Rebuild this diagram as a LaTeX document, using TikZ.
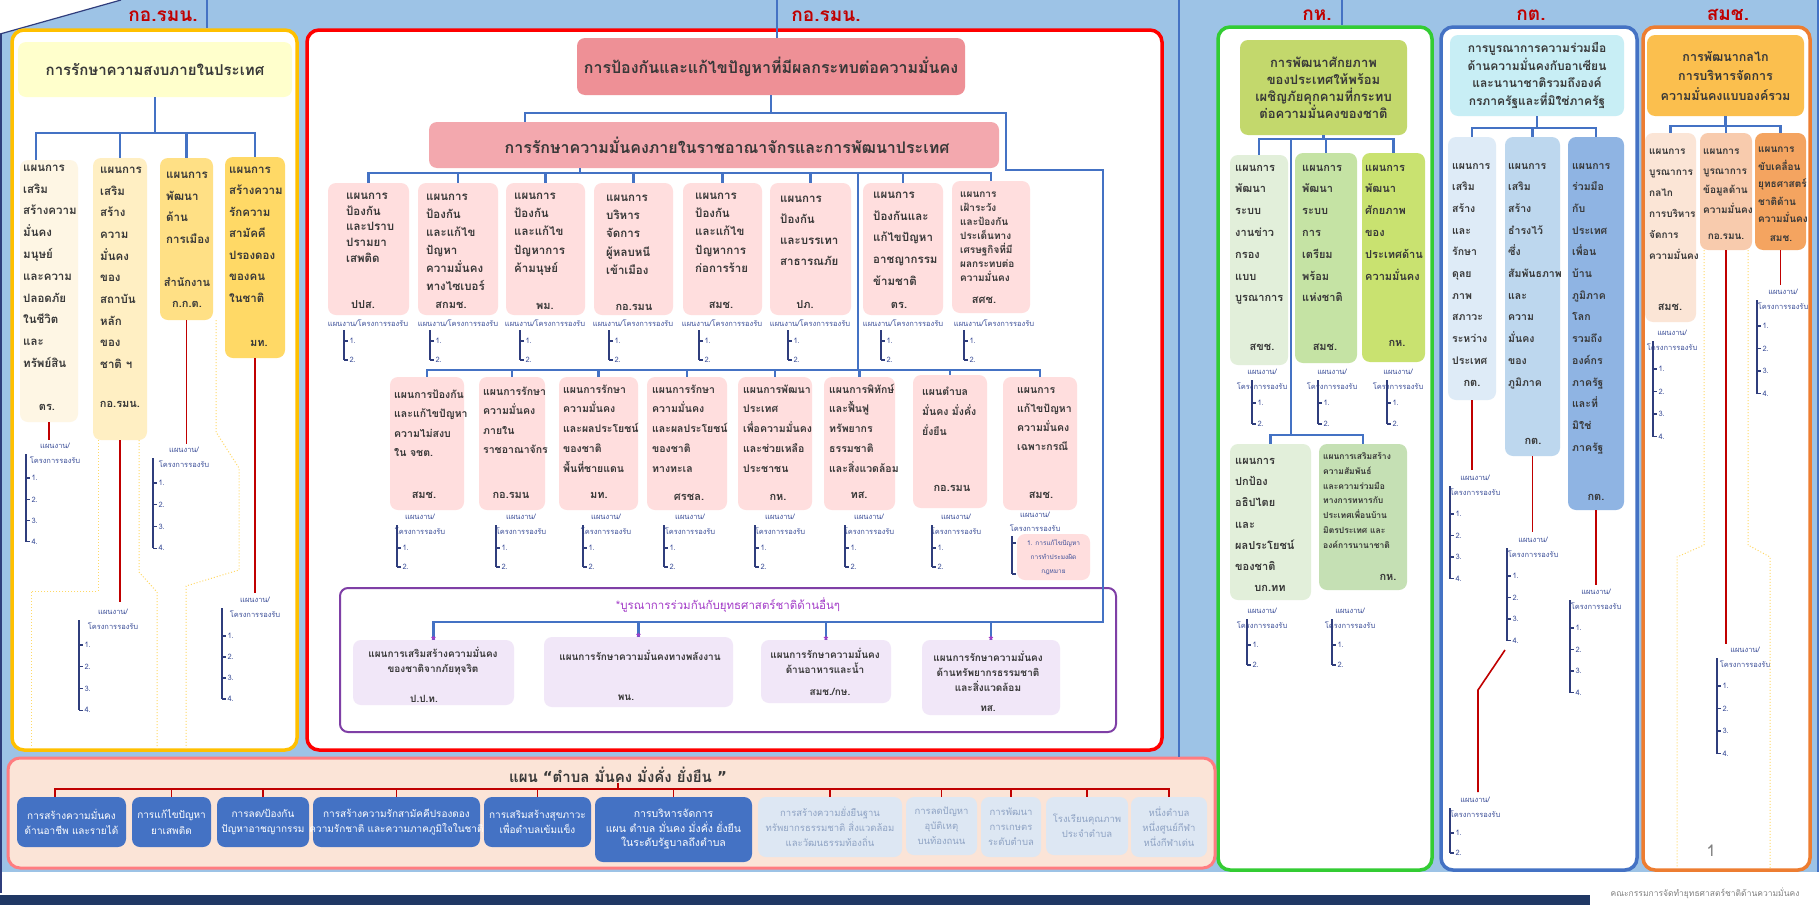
\documentclass[tikz,border=0pt]{standalone}
\usepackage{fontspec}
\setmainfont{Loma}[Script=Thai]
\newfontfamily\djv{DejaVu Sans}
\usetikzlibrary{calc,fit}
\newcommand{\fsz}[2]{\fontsize{#1}{#2}\selectfont}
\definecolor{bgblue}{HTML}{9DC3E6}
\definecolor{cblue}{HTML}{4472C4}
\definecolor{cred}{HTML}{C00000}
\definecolor{cnavy}{HTML}{2F3D7C}
\definecolor{cplan}{HTML}{3B4E98}
\definecolor{ctext}{HTML}{383838}
\definecolor{clabel}{HTML}{C00000}
\definecolor{pyel}{HTML}{FFC000}
\definecolor{pred}{HTML}{FF0000}
\definecolor{pgreen}{HTML}{33CC33}
\definecolor{porange}{HTML}{ED7D31}
\definecolor{dotc}{HTML}{FFD966}
\definecolor{fLt}{HTML}{FFFFCC}
\definecolor{fLa}{HTML}{FEF6E4}
\definecolor{fLb}{HTML}{FFEFC3}
\definecolor{fLc}{HTML}{FFE085}
\definecolor{fLd}{HTML}{FFD966}
\definecolor{fMa}{HTML}{EE9096}
\definecolor{fMb}{HTML}{F3A8AE}
\definecolor{fMr}{HTML}{FFDEDE}
\definecolor{cpur}{HTML}{7F3FA6}
\definecolor{tpur}{HTML}{A33CC8}
\definecolor{fpur}{HTML}{F1E7F8}
\definecolor{fGt}{HTML}{C3D86C}
\definecolor{fGa}{HTML}{E2EFDA}
\definecolor{fGb}{HTML}{C5E3A4}
\definecolor{fGc}{HTML}{C9E270}
\definecolor{fGd}{HTML}{C5E0B4}
\definecolor{fKt}{HTML}{C8EEF5}
\definecolor{fKa}{HTML}{DEEBF7}
\definecolor{fKb}{HTML}{BDD7EE}
\definecolor{fKc}{HTML}{8FB4E3}
\definecolor{fOt}{HTML}{FBBF4E}
\definecolor{fOa}{HTML}{FBE5D6}
\definecolor{fOb}{HTML}{F8CBAD}
\definecolor{fOc}{HTML}{F4A460}
\definecolor{fBand}{HTML}{FBE4D7}
\definecolor{cBand}{HTML}{FF7C80}
\definecolor{fBl}{HTML}{DDE7F3}
\definecolor{tBl}{HTML}{8FA3C4}
\definecolor{cfoot}{HTML}{203864}
\tikzset{
  panel/.style={rounded corners=12pt, fill=white, line width=3.5pt, inner sep=0pt},
  pb/.style={rounded corners=8pt, inner sep=0pt, draw=none},
  conn/.style={draw=cblue, line width=2.2pt},
  redl/.style={draw=cred, line width=1.6pt},
  brk/.style={draw=cnavy, line width=1.1pt},
  dotl/.style={draw=dotc, line width=1pt, dotted},
  plt/.style={font=\fsz{7.5}{9}, text=cplan, inner sep=0pt},
  btx/.style={text=ctext, inner sep=0pt, align=left},
  agx/.style={text=ctext, inner sep=0pt, font=\bfseries\fsz{11}{13}},
  toplab/.style={text=clabel, font=\bfseries\fsz{19}{22}, inner sep=0pt},
  bbt/.style={text=white, inner sep=0pt, align=center, font=\fsz{10}{15.5}},
  blt/.style={text=tBl, inner sep=0pt, align=center, font=\fsz{9.5}{15}},
  ptx/.style={text=ctext, inner sep=0pt, align=center, font=\bfseries\fsz{10}{15}},
}
\newcommand{\mybox}[6]{\node[pb, fill=#6, fit={(#2,#3) (#4,#5)}] (#1) {};}
\newcommand{\btext}[7]{\node[btx, anchor=north west, font=\bfseries\fsz{#4}{#5}, #7] (#1) at ({#2},{#3+0.27*#4-0.7*#5}) {\strut #6};}
\newcommand{\planl}[7]{%
  \node[plt] (#1h) at ({#3},{#4}) {แผนงาน/};
  \node[plt] (#1k) at ({#3},{#4+14}) {โครงการรองรับ};
  \draw[brk] ({#2},{#4+8}) -- ({#2},{#6+(#5-1)*#7});
  \foreach \i in {1,...,#5} {\draw[brk] ({#2},{#6+(\i-1)*#7}) -- ++(4,0) node[plt, anchor=west, inner sep=1pt] (#1i\i) {\i.};}
}
\newcommand{\planr}[3]{%
  \node[plt] (#1h) at (#3,323) {แผนงาน/โครงการรองรับ};
  \draw[brk] (#2,330) -- (#2,360);
  \draw[brk] (#2,341) -- ++(4,0) node[plt,anchor=west,inner sep=1pt] (#1i1) {1.};
  \draw[brk] (#2,360) -- ++(4,0) node[plt,anchor=west,inner sep=1pt] (#1i2) {2.};
}
\begin{document}
\begin{tikzpicture}[x=1pt,y=-1pt]
\useasboundingbox (0,0) rectangle (1819,905);
\fill[white] (0,0) rectangle (1819,905);
\fill[bgblue] (0,0) rectangle (1819,872);
\fill[white] (0,0) -- (121,0) -- (0,34) -- cycle;
\draw[cnavy, line width=1.2pt] (0,34) -- (121,0);
\draw[cnavy, line width=2.5pt] (1.2,34) -- (1.2,893);
\draw[cblue, line width=1.5pt] (1818,0) -- (1818,872);
\fill[cfoot] (0,895) rectangle (1590,905);
\node[font=\fsz{8.5}{10}, text=gray, inner sep=0pt] (foot) at (1705,893) {คณะกรรมการจัดทำยุทธศาสตร์ชาติด้านความมั่นคง};

% panels
\node[panel, draw=pyel, fit={(12,30) (297,750)}] (pnla) {};
\node[panel, draw=pred, fit={(307,30) (1162,750)}] (pnlb) {};
\node[panel, draw=pgreen, fit={(1218,27) (1432,870)}] (pnlc) {};
\node[panel, draw=cblue, fit={(1441,27) (1637,870)}] (pnld) {};
\node[panel, draw=porange, fit={(1643,27) (1810,870)}] (pnle) {};
\node[panel, draw=cBand, fill=fBand, line width=3pt, fit={(8,758) (1215,868)}] (pnlf) {};
\draw[cblue, line width=2pt] (1179,0) -- (1179,757);

% top labels
\node[toplab] (laba) at (163,16) {กอ.รมน.};
\node[toplab] (labb) at (826,16) {กอ.รมน.};
\node[toplab] (labc) at (1317,15) {กห.};
\node[toplab] (labd) at (1531,15) {กต.};
\node[toplab] (labe) at (1728,15) {สมช.};

% ================= LEFT PANEL
\mybox{lt}{18}{42}{292}{97}{fLt}
\node[font=\bfseries\fsz{15}{18}, text=ctext, inner sep=0pt] (ltt) at (lt.center) {การรักษาความสงบภายในประเทศ};
\mybox{la}{20}{160}{78}{422}{fLa}
\mybox{lb}{93}{158}{147}{440}{fLb}
\mybox{lc}{160}{158}{213}{320}{fLc}
\mybox{ld}{225}{157}{285}{358}{fLd}
\coordinate (topa) at (207,0);
\draw[conn] (topa) -- (topa |- pnla.north);
\coordinate (lbus) at (150,133);
\coordinate (latop) at ($(la.north west)+(16,0)$);
\draw[conn] (lt.south) -- (lt.south |- lbus);
\draw[conn] (latop) |- (lbus -| ld.north) -- (ld.north);
\draw[conn] (lb.north) -- (lb.north |- lbus);
\draw[conn] (lc.north) -- (lc.north |- lbus);
\btext{lat}{23}{168}{11.5}{21.8}{แผนการ\\เสริม\\สร้างความ\\มั่นคง\\มนุษย์\\และความ\\ปลอดภัย\\ในชีวิต\\และ\\ทรัพย์สิน}{}
\node[agx] (laa) at (47,407) {ตร.};
\btext{lbt}{100}{170}{11.5}{21.7}{แผนการ\\เสริม\\สร้าง\\ความ\\มั่นคง\\ของ\\สถาบัน\\หลัก\\ของ\\ชาติ ฯ}{}
\node[agx] (lba) at (120,404) {กอ.รมน.};
\btext{lct}{166}{175}{11.5}{21.7}{แผนการ\\พัฒนา\\ด้าน\\การเมือง}{}
\node[agx, align=center, font=\bfseries\fsz{11}{21}] (lca) at (187,293) {สำนักงาน\\ก.ก.ต.};
\btext{ldt}{229}{170}{11.5}{21.5}{แผนการ\\สร้างความ\\รักความ\\สามัคคี\\ปรองดอง\\ของคน\\ในชาติ}{}
\node[agx] (lda) at (259,343) {มท.};
\draw[redl] (la.south) -- ++(0,18);
\draw[redl] (lb.south) -- ++(0,162);
\draw[redl] (lc.south) -- ++(0,124);
\draw[redl] (ld.south) -- ++(0,235);
\planl{lpa}{26}{55}{446}{4}{478}{21.3}
\planl{lpb}{79}{113}{612}{4}{645}{21.7}
\planl{lpc}{153}{184}{450}{4}{483}{21.7}
\planl{lpd}{222}{255}{600}{4}{636}{21}
\draw[dotl] (98,440) -- (98,591) -- (31,591) -- (31,750);
\draw[dotl] (139,440) -- (139,572) -- (157,592) -- (157,750);
\draw[dotl] (216,320) -- (216,432) -- (239,468) -- (239,570) -- (186,586) -- (186,750);

% ================= MIDDLE PANEL
\mybox{mta}{577}{38}{965}{95}{fMa}
\node[font=\bfseries\fsz{16}{18}, text=ctext, inner sep=0pt] (mtat) at (mta.center) {การป้องกันและแก้ไขปัญหาที่มีผลกระทบต่อความมั่นคง};
\mybox{mtb}{429}{122}{999}{168}{fMb}
\node[font=\bfseries\fsz{16}{18}, text=ctext, inner sep=0pt] (mtbt) at (727,145) {การรักษาความมั่นคงภายในราชอาณาจักรและการพัฒนาประเทศ};
\coordinate (topb) at (777,0);
\draw[conn] (topb) -- (topb |- mta.north);
\coordinate (mbus) at (700,113);
\draw[conn] (mta.south) -- (mta.south |- mbus);
\coordinate (mtbn) at ($(mtb.north west)+(96,0)$);
\coordinate (ja) at (1006,113);
\coordinate (jb) at (1103,170);
\coordinate (pbus) at (700,622);

% row 1
\mybox{ma}{328}{183}{409}{315}{fMr}
\mybox{mb}{418}{183}{498}{315}{fMr}
\mybox{mc}{506}{183}{585}{315}{fMr}
\mybox{md}{594}{183}{673}{315}{fMr}
\mybox{me}{683}{183}{762}{315}{fMr}
\mybox{mf}{770}{183}{851}{315}{fMr}
\mybox{mg}{863}{183}{943}{315}{fMr}
\mybox{mh}{952}{181}{1030}{313}{fMr}
\coordinate (rbus) at (700,173);
\coordinate (mtbs) at ($(mtb.south west)+(151,0)$);
\draw[conn] (mtbs) -- (mtbs |- rbus);
\draw[conn] (ma.north) |- (rbus -| mh.north) -- (mh.north);
\foreach \b in {mb,mc,md,me,mf,mg} {\draw[conn] (\b.north) -- (\b.north |- rbus);}
\btext{mat}{346}{196}{11.5}{15.8}{แผนการ\\ป้องกัน\\และปราบ\\ปรามยา\\เสพติด}{}
\node[agx] (maa) at (363,305) {ปปส.};
\btext{mbt}{426}{197}{11.5}{18}{แผนการ\\ป้องกัน\\และแก้ไข\\ปัญหา\\ความมั่นคง\\ทางไซเบอร์}{}
\node[agx] (mba) at (451,305) {สกมช.};
\btext{mct}{514}{196}{11.5}{18.3}{แผนการ\\ป้องกัน\\และแก้ไข\\ปัญหาการ\\ค้ามนุษย์}{}
\node[agx] (mca) at (545,306) {พม.};
\btext{mdt}{606}{198}{11.5}{18.3}{แผนการ\\บริหาร\\จัดการ\\ผู้หลบหนี\\เข้าเมือง}{}
\node[agx] (mda) at (634,307) {กอ.รมน};
\btext{met}{695}{196}{11.5}{18.3}{แผนการ\\ป้องกัน\\และแก้ไข\\ปัญหาการ\\ก่อการร้าย}{}
\node[agx] (mea) at (721,305) {สมช.};
\btext{mft}{780}{199}{11.5}{21.2}{แผนการ\\ป้องกัน\\และบรรเทา\\สาธารณภัย}{}
\node[agx] (mfa) at (805,305) {ปภ.};
\btext{mgt}{873}{195}{11.5}{21.7}{แผนการ\\ป้องกันและ\\แก้ไขปัญหา\\อาชญากรรม\\ข้ามชาติ}{}
\node[agx] (mga) at (899,305) {ตร.};
\btext{mht}{960}{195}{10}{13.9}{แผนการ\\เฝ้าระวัง\\และป้องกัน\\ประเด็นทาง\\เศรษฐกิจที่มี\\ผลกระทบต่อ\\ความมั่นคง}{}
\node[agx] (mha) at (984,300) {สศช.};
\planr{mpa}{344}{368}
\planr{mpb}{430}{458}
\planr{mpc}{520}{545}
\planr{mpd}{609}{633}
\planr{mpe}{699}{722}
\planr{mpf}{788}{810}
\planr{mpg}{881}{903}
\planr{mph}{964}{994}

% row 2
\mybox{na}{390}{377}{464}{510}{fMr}
\mybox{nb}{479}{377}{545}{510}{fMr}
\mybox{nc}{559}{377}{638}{510}{fMr}
\mybox{nd}{647}{377}{727}{510}{fMr}
\mybox{ne}{738}{377}{812}{510}{fMr}
\mybox{nf}{824}{377}{895}{510}{fMr}
\mybox{ng}{913}{375}{987}{508}{fMr}
\mybox{nh}{1003}{377}{1077}{510}{fMr}
\coordinate (sbus) at (700,370);
\coordinate (rx) at (858,173);
\draw[conn] (rx) -- (rx |- sbus);
\draw[conn] (na.north) |- (sbus -| nh.north) -- (nh.north);
\foreach \b in {nb,nc,nd,ne,nf,ng} {\draw[conn] (\b.north) -- (\b.north |- sbus);}
\btext{nat}{394}{395}{10.5}{19.5}{แผนการป้องกัน\\และแก้ไขปัญหา\\ความไม่สงบ\\ใน จชต.}{}
\node[agx] (naa) at (424,495) {สมช.};
\btext{nbt}{483}{392}{10.5}{19.5}{แผนการรักษา\\ความมั่นคง\\ภายใน\\ราชอาณาจักร}{}
\node[agx] (nba) at (511,495) {กอ.รมน};
\btext{nct}{563}{390}{10.5}{19.8}{แผนการรักษา\\ความมั่นคง\\และผลประโยชน์\\ของชาติ\\พื้นที่ชายแดน}{}
\node[agx] (nca) at (599,495) {มท.};
\btext{ndt}{652}{390}{10.5}{19.8}{แผนการรักษา\\ความมั่นคง\\และผลประโยชน์\\ของชาติ\\ทางทะเล}{}
\node[agx] (nda) at (689,497) {ศรชล.};
\btext{net}{743}{390}{10.5}{19.8}{แผนการพัฒนา\\ประเทศ\\เพื่อความมั่นคง\\และช่วยเหลือ\\ประชาชน}{}
\node[agx] (nea) at (778,497) {กห.};
\btext{nft}{829}{390}{10.5}{19.8}{แผนการพิทักษ์\\และฟื้นฟู\\ทรัพยากร\\ธรรมชาติ\\และสิ่งแวดล้อม}{}
\node[agx] (nfa) at (859,495) {ทส.};
\btext{ngt}{922}{392}{10.5}{20}{แผนตำบล\\มั่นคง มั่งคั่ง\\ยั่งยืน}{}
\node[agx] (nga) at (952,488) {กอ.รมน};
\btext{nht}{1017}{390}{10.5}{19}{แผนการ\\แก้ไขปัญหา\\ความมั่นคง\\เฉพาะกรณี}{}
\node[agx] (nha) at (1041,495) {สมช.};
\planl{npa}{397}{420}{517}{2}{548}{19}
\planl{npb}{496}{521}{517}{2}{548}{19}
\planl{npc}{583}{606}{517}{2}{548}{19}
\planl{npd}{664}{690}{517}{2}{548}{19}
\planl{npe}{755}{780}{517}{2}{548}{19}
\planl{npf}{845}{869}{517}{2}{548}{19}
\planl{npg}{932}{956}{517}{2}{548}{19}
\node[plt] (nphh) at (1035,515) {แผนงาน/};
\node[plt] (nphk) at (1035,528) {โครงการรองรับ};
\mybox{nhp}{1017}{534}{1090}{580}{fMr}
\draw[brk] (1012,536) -- (1012,574);
\draw[brk] (1012,543) -- ++(4,0);
\draw[brk] (1012,574) -- ++(4,0);
\node[plt, align=center, font=\fsz{6.5}{14}] (nhpt) at (nhp.center) {1. การแก้ไขปัญหา\\การทำประมงผิด\\กฎหมาย};

% purple integration box
\node[rounded corners=8pt, draw=cpur, line width=2pt, fill=white, inner sep=0pt, fit={(340,588) (1116,732)}] (pur) {};
\node[text=tpur, font=\fsz{11.5}{14}, inner sep=0pt] (purt) at (728,605) {*บูรณาการร่วมกันกับยุทธศาสตร์ชาติด้านอื่นๆ};
\mybox{pa}{353}{640}{514}{705}{fpur}
\mybox{pbb}{544}{637}{733}{707}{fpur}
\mybox{pc}{761}{640}{891}{703}{fpur}
\mybox{pd}{922}{640}{1060}{715}{fpur}
\draw[conn] (mtbn) |- (ja) |- (jb) -- (jb |- pbus) -| (pa.north);
\foreach \b in {pbb,pc,pd} {\draw[conn] (\b.north) -- (\b.north |- pbus);}
\foreach \b in {pa,pbb,pc,pd} {\node[text=tpur, font=\bfseries\fsz{14}{14}, inner sep=0pt] (\b s) at ($(\b.north)+(0,2)$) {*};}
\node[ptx] (pat) at (433,661) {แผนการเสริมสร้างความมั่นคง\\ของชาติจากภัยทุจริต};
\node[agx, font=\bfseries\fsz{10}{12}] (paa) at (424,699) {ป.ป.ท.};
\node[ptx] (pbt) at (640,655) {แผนการรักษาความมั่นคงทางพลังงาน};
\node[agx, font=\bfseries\fsz{10}{12}] (pba) at (626,698) {พน.};
\node[ptx] (pct) at (825,661) {แผนการรักษาความมั่นคง\\ด้านอาหารและน้ำ};
\node[agx, font=\bfseries\fsz{10}{12}] (pca) at (830,692) {สมช./กษ.};
\node[ptx] (pdt) at (988,671) {แผนการรักษาความมั่นคง\\ด้านทรัพยากรธรรมชาติ\\และสิ่งแวดล้อม};
\node[agx, font=\bfseries\fsz{10}{12}] (pda) at (988,709) {ทส.};

% ================= BOTTOM BAND
\node[font=\bfseries\fsz{15}{17}, text=ctext, inner sep=0pt] (bt) at (618,775) {แผน {\djv“}ตำบล มั่นคง มั่งคั่ง ยั่งยืน {\djv”}};
\mybox{bba}{17}{797}{126}{847}{cblue}
\mybox{bbb}{132}{797}{211}{847}{cblue}
\mybox{bbc}{217}{797}{309}{847}{cblue}
\mybox{bbd}{313}{797}{480}{847}{cblue}
\mybox{bbe}{484}{797}{591}{847}{cblue}
\mybox{bbf}{595}{797}{752}{862}{cblue}
\mybox{bbg}{758}{797}{902}{857}{fBl}
\mybox{bbh}{906}{797}{977}{855}{fBl}
\mybox{bbi}{981}{797}{1041}{857}{fBl}
\mybox{bbj}{1046}{797}{1128}{855}{fBl}
\mybox{bbk}{1131}{797}{1207}{857}{fBl}
\coordinate (bbus) at (612,789);
\coordinate (bbat) at ($(bba.north west)+(38,0)$);
\draw[redl] (bt.south) -- (bt.south |- bbus);
\draw[redl] (bbat) |- (bbus -| bbk.north) -- (bbk.north);
\foreach \b in {bbb,bbc,bbd,bbe,bbf,bbg,bbh,bbi,bbj} {\draw[redl] (\b.north) -- (\b.north |- bbus);}
\node[bbt] (bbatx) at (bba.center) {การสร้างความมั่นคง\\ด้านอาชีพ และรายได้};
\node[bbt] (bbbt) at (bbb.center) {การแก้ไขปัญหา\\ยาเสพติด};
\node[bbt] (bbct) at (bbc.center) {การลด/ป้องกัน\\ปัญหาอาชญากรรม};
\node[bbt] (bbdt) at (bbd.center) {การสร้างความรักสามัคคีปรองดอง\\ความรักชาติ และความภาคภูมิใจในชาติ};
\node[bbt] (bbet) at (bbe.center) {การเสริมสร้างสุขภาวะ\\เพื่อตำบลเข้มแข็ง};
\node[bbt, font=\fsz{10.5}{14.5}] (bbft) at (bbf.center) {การบริหารจัดการ\\แผน ตำบล มั่นคง มั่งคั่ง ยั่งยืน\\ในระดับรัฐบาลถึงตำบล};
\node[blt] (bbgt) at (bbg.center) {การสร้างความยั่งยืนฐาน\\ทรัพยากรธรรมชาติ สิ่งแวดล้อม\\และวัฒนธรรมท้องถิ่น};
\node[blt] (bbht) at (bbh.center) {การลดปัญหา\\อุบัติเหตุ\\บนท้องถนน};
\node[blt] (bbit) at (bbi.center) {การพัฒนา\\การเกษตร\\ระดับตำบล};
\node[blt] (bbjt) at (bbj.center) {โรงเรียนคุณภาพ\\ประจำตำบล};
\node[blt] (bbkt) at (bbk.center) {หนึ่งตำบล\\หนึ่งศูนย์กีฬา\\หนึ่งกีฬาเด่น};

% ================= กห. PANEL
\coordinate (topc) at (1342,0);
\draw[conn] (topc) -- (topc |- pnlc.north);
\mybox{gt}{1240}{40}{1407}{135}{fGt}
\node[font=\bfseries\fsz{13}{17}, text=ctext, inner sep=0pt, align=center] (gtt) at (gt.center) {การพัฒนาศักยภาพ\\ของประเทศให้พร้อม\\เผชิญภัยคุกคามที่กระทบ\\ต่อความมั่นคงของชาติ};
\mybox{ga}{1230}{155}{1288}{365}{fGa}
\mybox{gb}{1295}{153}{1357}{363}{fGb}
\mybox{gc}{1362}{153}{1425}{362}{fGc}
\coordinate (gbus) at (1320,139);
\draw[conn] (gt.south) -- (gt.south |- gbus);
\draw[conn] (ga.north) |- (gbus -| gc.north) -- (gc.north);
\draw[conn] (gb.north) -- (gb.north |- gbus);
\btext{gat}{1235}{168}{11}{21.8}{แผนการ\\พัฒนา\\ระบบ\\งานข่าว\\กรอง\\แบบ\\บูรณาการ}{}
\node[agx] (gaa) at (1262,347) {สขช.};
\btext{gbt}{1302}{168}{11}{21.8}{แผนการ\\พัฒนา\\ระบบ\\การ\\เตรียม\\พร้อม\\แห่งชาติ}{}
\node[agx] (gba) at (1325,347) {สมช.};
\btext{gct}{1365}{168}{11}{21.8}{แผนการ\\พัฒนา\\ศักยภาพ\\ของ\\ประเทศด้าน\\ความมั่นคง}{}
\node[agx] (gca) at (1397,343) {กห.};
\planl{gpa}{1252}{1262}{372}{2}{403}{21}
\planl{gpb}{1318}{1332}{372}{2}{403}{21}
\planl{gpc}{1387}{1398}{372}{2}{403}{21}
\mybox{gd}{1230}{444}{1311}{600}{fGa}
\mybox{ge}{1319}{444}{1407}{590}{fGd}
\coordinate (gx) at (1291,139);
\coordinate (gdbus) at (1300,435);
\draw[conn] (gx) -- (gx |- gdbus);
\draw[conn] (gd.north) |- (gdbus -| ge.north) -- (ge.north);
\btext{gdt}{1235}{461}{11}{21.3}{แผนการ\\ปกป้อง\\อธิปไตย\\และ\\ผลประโยชน์\\ของชาติ}{}
\node[agx] (gda) at (1270,588) {บก.ทท};
\btext{get}{1323}{457}{8.5}{14.8}{แผนการเสริมสร้าง\\ความสัมพันธ์\\และความร่วมมือ\\ทางการทหารกับ\\ประเทศเพื่อนบ้าน\\มิตรประเทศ และ\\องค์การนานาชาติ}{}
\node[agx] (gea) at (1388,577) {กห.};
\planl{gpd}{1247}{1262}{611}{2}{645}{20}
\planl{gpe}{1332}{1350}{611}{2}{645}{20}

% ================= กต. PANEL
\mybox{kt}{1450}{35}{1624}{116}{fKt}
\node[font=\bfseries\fsz{12}{17.5}, text=ctext, inner sep=0pt, align=center] (ktt) at (kt.center) {การบูรณาการความร่วมมือ\\ด้านความมั่นคงกับอาเซียน\\และนานาชาติรวมถึงองค์\\กรภาครัฐและที่มิใช่ภาครัฐ};
\mybox{ka}{1448}{137}{1496}{400}{fKa}
\mybox{kb}{1505}{137}{1560}{456}{fKb}
\mybox{kc}{1568}{137}{1624}{510}{fKc}
\coordinate (kbus) at (1530,128);
\draw[conn] (kt.south) -- (kt.south |- kbus);
\draw[conn] (ka.north) |- (kbus -| kc.north) -- (kc.north);
\draw[conn] (kb.north) -- (kb.north |- kbus);
\btext{kat}{1452}{166}{10.5}{21.7}{แผนการ\\เสริม\\สร้าง\\และ\\รักษา\\ดุลย\\ภาพ\\สภาวะ\\ระหว่าง\\ประเทศ}{}
\node[agx] (kaa) at (1472,383) {กต.};
\btext{kbt}{1508}{166}{10.5}{21.7}{แผนการ\\เสริม\\สร้าง\\ธำรงไว้\\ซึ่ง\\สัมพันธภาพ\\และ\\ความ\\มั่นคง\\ของ\\ภูมิภาค}{}
\node[agx] (kba) at (1533,441) {กต.};
\btext{kct}{1572}{166}{10.5}{21.7}{แผนการ\\ร่วมมือ\\กับ\\ประเทศ\\เพื่อน\\บ้าน\\ภูมิภาค\\โลก\\รวมถึง\\องค์กร\\ภาครัฐ\\และที่\\มิใช่\\ภาครัฐ}{}
\node[agx] (kca) at (1596,497) {กต.};
\draw[redl] (ka.south) -- ++(0,70);
\draw[redl] (kb.south) -- ++(0,76);
\draw[redl] (kc.south) -- ++(0,75);
\planl{kpa}{1450}{1475}{478}{4}{514}{21.5}
\planl{kpb}{1507}{1533}{540}{4}{576}{21.5}
\planl{kpc}{1570}{1596}{592}{4}{628}{21.5}
\draw[redl] (1505,650) -- (1478,690) -- (1478,792);
\planl{kpd}{1450}{1475}{800}{2}{833}{20}

% ================= สมช. PANEL
\mybox{ot}{1647}{35}{1804}{116}{fOt}
\node[font=\bfseries\fsz{12.5}{19.5}, text=ctext, inner sep=0pt, align=center] (ott) at (ot.center) {การพัฒนากลไก\\การบริหารจัดการ\\ความมั่นคงแบบองค์รวม};
\mybox{oa}{1645}{133}{1696}{322}{fOa}
\mybox{ob}{1700}{133}{1752}{250}{fOb}
\mybox{oc}{1755}{133}{1806}{250}{fOc}
\coordinate (obus) at (1725,126);
\draw[conn] (ot.south) -- (ot.south |- obus);
\draw[conn] (oa.north) |- (obus -| oc.north) -- (oc.north);
\draw[conn] (ob.north) -- (ob.north |- obus);
\btext{oat}{1649}{152}{10}{21}{แผนการ\\บูรณาการ\\กลไก\\การบริหาร\\จัดการ\\ความมั่นคง}{}
\node[agx] (oaa) at (1670,307) {สมช.};
\btext{obt}{1703}{152}{10}{19.5}{แผนการ\\บูรณาการ\\ข้อมูลด้าน\\ความมั่นคง}{}
\node[agx, font=\bfseries\fsz{10}{12}] (oba) at (1726,237) {กอ.รมน.};
\btext{oct}{1758}{150}{10}{17.5}{แผนการ\\ขับเคลื่อน\\ยุทธศาสตร์\\ชาติด้าน\\ความมั่นคง}{}
\node[agx, font=\bfseries\fsz{10}{12}] (oca) at (1781,239) {สมช.};
\draw[redl] (ob.south) -- ++(0,394);
\draw[redl] (oc.south) -- ++(0,35);
\planl{opa}{1653}{1672}{333}{4}{369}{22.5}
\planl{opc}{1757}{1783}{292}{4}{326}{22.5}
\planl{opb}{1717}{1745}{650}{4}{686}{22.5}
\draw[dotl] (1704,250) -- (1704,545) -- (1677,557) -- (1677,868);
\draw[dotl] (1748,250) -- (1748,545) -- (1770,557) -- (1770,868);
\node[text=gray, font=\fsz{16}{18}, inner sep=0pt] (pgno) at (1711,851) {1};
\end{tikzpicture}
\end{document}
